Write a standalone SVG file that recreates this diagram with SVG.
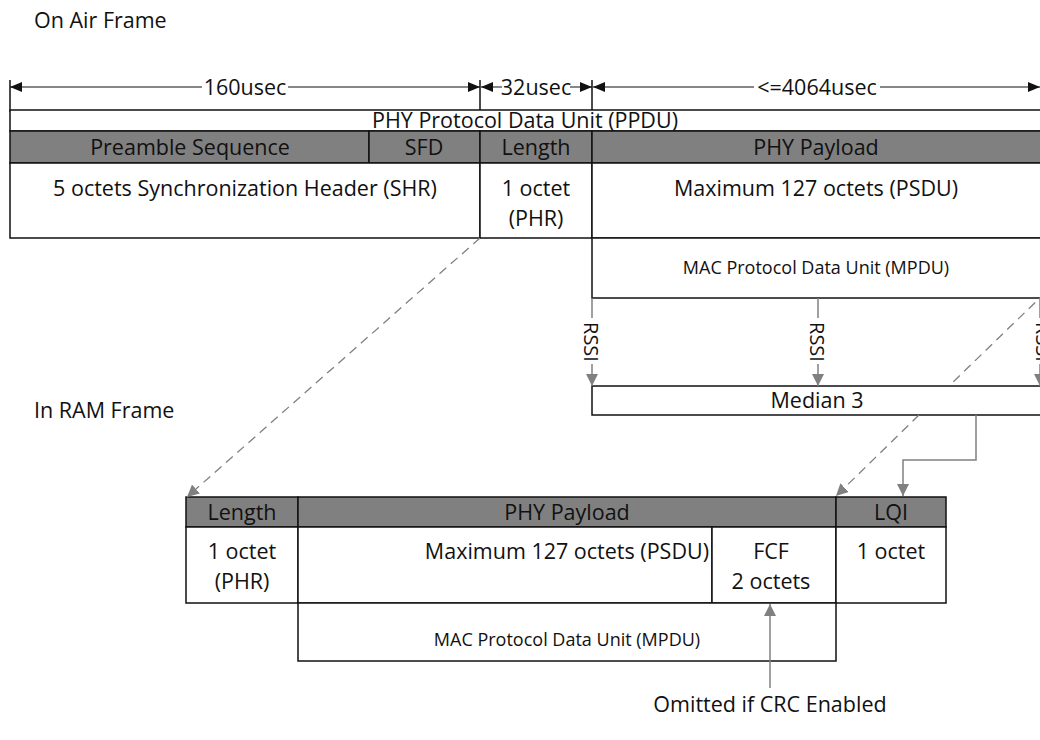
<svg xmlns="http://www.w3.org/2000/svg" width="1040" height="740" viewBox="0 0 1040 740">
<style>
text{font-family:"Open Sans","Liberation Sans",sans-serif;fill:#111}
.t{font-size:21.5px}
.s{font-size:18px}
.r{font-size:20px}
.m{text-anchor:middle}
.box{fill:#fff;stroke:#111;stroke-width:1.5}
.hdr{fill:#808080;stroke:#111;stroke-width:1.5}
.ln{stroke:#111;stroke-width:1.5;fill:none}
.dim{stroke:#111;stroke-width:1.2;fill:none;marker-start:url(#ab);marker-end:url(#ab)}
.g{stroke:#808080;stroke-width:1.5;fill:none;marker-end:url(#ag)}
.gd{stroke:#808080;stroke-width:1.3;fill:none;stroke-dasharray:9 6}
.gda{marker-end:url(#ag)}
.bg{fill:#fff}
</style>
<defs>
<marker id="ab" viewBox="0 0 12 10" refX="12" refY="5" markerWidth="12" markerHeight="10" markerUnits="userSpaceOnUse" orient="auto-start-reverse"><path d="M0,0 L12,5 L0,10 Z" fill="#111"/></marker>
<marker id="ag" viewBox="0 0 12 12" refX="12" refY="6" markerWidth="12" markerHeight="12" markerUnits="userSpaceOnUse" orient="auto"><path d="M0,0 L12,6 L0,12 Z" fill="#808080"/></marker>
</defs>

<g id="titles">
<text class="t" x="34" y="28">On Air Frame</text>
<text class="t" x="34" y="418">In RAM Frame</text>
</g>

<g id="dimensions">
<line class="ln" x1="10" y1="80" x2="10" y2="112"/>
<line class="ln" x1="480" y1="80" x2="480" y2="112"/>
<line class="ln" x1="592" y1="80" x2="592" y2="112"/>
<line class="dim" x1="10" y1="87" x2="480" y2="87"/>
<line class="dim" x1="481" y1="87" x2="592" y2="87"/>
<line class="dim" x1="593" y1="87" x2="1040" y2="87"/>
<rect class="bg" x="202" y="75" width="86" height="24"/>
<text class="t m" x="245" y="95">160usec</text>
<rect class="bg" x="502" y="75" width="68" height="24"/>
<text class="t m" x="536" y="95">32usec</text>
<rect class="bg" x="754" y="75" width="126" height="24"/>
<text class="t m" x="817" y="95">&lt;=4064usec</text>
</g>

<g id="ppdu">
<rect class="box" x="10" y="110" width="1040" height="21"/>
<text class="t m" x="525" y="128">PHY Protocol Data Unit (PPDU)</text>
</g>

<g id="air-preamble">
<rect class="hdr" x="10" y="131" width="359" height="32"/>
<text class="t m" x="190" y="155">Preamble Sequence</text>
</g>
<g id="air-sfd">
<rect class="hdr" x="369" y="131" width="111" height="32"/>
<text class="t m" x="424" y="155">SFD</text>
</g>
<g id="air-shr">
<rect class="box" x="10" y="163" width="470" height="75"/>
<text class="t m" x="245" y="196">5 octets Synchronization Header (SHR)</text>
</g>
<g id="air-length">
<rect class="hdr" x="480" y="131" width="112" height="32"/>
<text class="t m" x="536" y="155">Length</text>
<rect class="box" x="480" y="163" width="112" height="75"/>
<text class="t m" x="536" y="196">1 octet</text>
<text class="t m" x="536" y="226">(PHR)</text>
</g>
<g id="air-payload">
<rect class="hdr" x="592" y="131" width="458" height="32"/>
<text class="t m" x="816" y="155">PHY Payload</text>
<rect class="box" x="592" y="163" width="458" height="75"/>
<text class="t m" x="816" y="196">Maximum 127 octets (PSDU)</text>
</g>
<g id="air-mpdu">
<rect class="box" x="592" y="238" width="458" height="60"/>
<text class="s m" x="816" y="274">MAC Protocol Data Unit (MPDU)</text>
</g>

<g id="median3">
<rect class="box" x="592" y="386" width="458" height="29"/>
<text class="t m" x="817" y="408">Median 3</text>
</g>

<g id="ram-length">
<rect class="hdr" x="186" y="497" width="112" height="30"/>
<text class="t m" x="242" y="520">Length</text>
<rect class="box" x="186" y="527" width="112" height="76"/>
<text class="t m" x="242" y="559">1 octet</text>
<text class="t m" x="242" y="589">(PHR)</text>
</g>
<g id="ram-payload">
<rect class="hdr" x="298" y="497" width="538" height="30"/>
<text class="t m" x="567" y="520">PHY Payload</text>
<rect class="box" x="298" y="527" width="414" height="76"/>
<text class="t" x="709" y="559" text-anchor="end">Maximum 127 octets (PSDU)</text>
</g>
<g id="ram-fcf">
<rect class="box" x="712" y="527" width="124" height="76"/>
<text class="t m" x="771" y="559">FCF</text>
<text class="t m" x="771" y="589">2 octets</text>
</g>
<g id="ram-lqi">
<rect class="hdr" x="836" y="497" width="110" height="30"/>
<text class="t m" x="891" y="520">LQI</text>
<rect class="box" x="836" y="527" width="110" height="76"/>
<text class="t m" x="891" y="559">1 octet</text>
</g>
<g id="ram-mpdu">
<rect class="box" x="298" y="603" width="538" height="58"/>
<text class="s m" x="567" y="646">MAC Protocol Data Unit (MPDU)</text>
</g>
<g id="note">
<text class="t m" x="770" y="712">Omitted if CRC Enabled</text>
</g>

<g id="connectors">
<line class="gd gda" x1="480" y1="238" x2="187" y2="497"/>
<line class="gd" x1="1046" y1="292" x2="949" y2="386"/>
<line class="gd gda" x1="919" y1="415" x2="836" y2="496"/>
<line class="g" x1="592" y1="298" x2="592" y2="386"/>
<line class="g" x1="818" y1="298" x2="818" y2="386"/>
<line class="g" x1="1040" y1="298" x2="1040" y2="386"/>
<polyline class="g" points="976,415 976,460 903,460 903,496"/>
<line class="g" x1="770" y1="688" x2="770" y2="604"/>
<rect class="bg" x="581" y="318" width="22" height="46"/>
<text class="r m" transform="translate(584,342) rotate(90)">RSSI</text>
<rect class="bg" x="807" y="318" width="22" height="46"/>
<text class="r m" transform="translate(810,342) rotate(90)">RSSI</text>
<rect class="bg" x="1029" y="318" width="22" height="46"/>
<text class="r m" transform="translate(1036,342) rotate(90)">RSSI</text>
</g>
</svg>
